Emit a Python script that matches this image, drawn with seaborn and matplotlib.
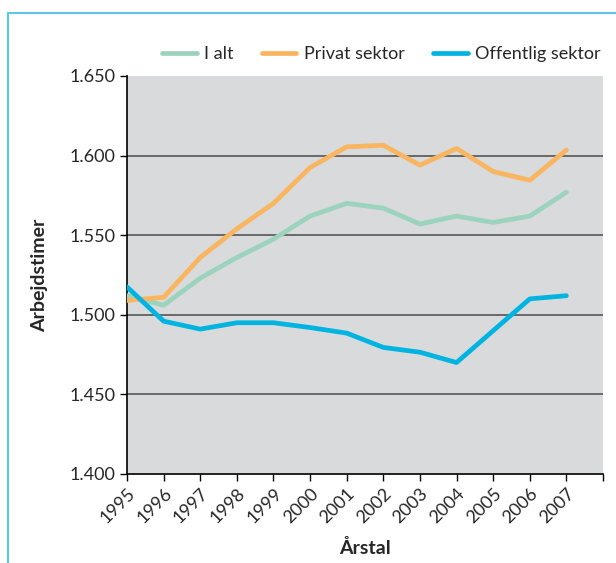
import pandas as pd
import matplotlib.pyplot as plt
import seaborn as sns
from matplotlib.patches import Rectangle

# data (hours per year)
years = list(range(1995, 2008))
i_alt = [1512, 1506, 1523, 1536, 1547.5, 1562, 1570, 1567, 1557, 1562, 1558, 1562, 1577]
privat = [1509, 1511, 1536, 1554, 1570, 1592.5, 1605.5, 1606.5, 1594, 1604.5, 1590, 1584.5, 1603.5]
offentlig = [1517.5, 1496, 1491, 1495, 1495, 1492, 1488.5, 1479.5, 1476.5, 1470, 1490, 1510, 1512]
series_names = ['I alt', 'Privat sektor', 'Offentlig sektor']
y_ticks = [1400, 1450, 1500, 1550, 1600, 1650]

df = pd.DataFrame({
    'Aar': years * 3,
    'Timer': i_alt + privat + offentlig,
    'Serie': [s for s in series_names for _ in years],
})

cores = {'I alt': '#9bd3bd', 'Privat sektor': '#f9b55f', 'Offentlig sektor': '#00b4e1'}

sns.set_style('white')
plt.rcParams['font.family'] = ['Lato', 'DejaVu Sans']

fig = plt.figure(figsize=(6.16, 5.63), dpi=100)
ax = fig.add_axes([127 / 616, 89 / 563, 476 / 616, 398 / 563])
ax.set_facecolor('#d9dadc')

sns.lineplot(data=df, x='Aar', y='Timer', hue='Serie', palette=cores,
             linewidth=3.4, ax=ax, zorder=3)

ax.set_xlim(1995, 2008)
ax.set_ylim(1400, 1650)
ax.set_yticks(y_ticks)
ax.set_yticklabels([f'{v / 1000:.3f}' for v in y_ticks], fontsize=13)
ax.set_xticks(list(range(1995, 2009)))
ax.set_xticklabels([str(y) for y in years] + [''], rotation=45, ha='right',
                   rotation_mode='anchor', fontsize=13)
ax.tick_params(axis='both', direction='out', length=5, width=1, color='black',
               bottom=True, left=True, pad=3)

for v in y_ticks[1:-1]:
    ax.axhline(v, color='#555555', lw=1.2, zorder=2)

for side in ['top', 'right']:
    ax.spines[side].set_visible(False)
for side in ['left', 'bottom']:
    ax.spines[side].set_color('black')
    ax.spines[side].set_linewidth(1.2)

ax.set_xlabel('Årstal', fontsize=14, fontweight='bold', labelpad=9)
ax.set_ylabel('Arbejdstimer', fontsize=14, fontweight='bold', labelpad=16)

ax.legend(title=None, ncol=3, frameon=False, loc='lower right',
          bbox_to_anchor=(0.995, 1.035), fontsize=13, handlelength=1.9,
          columnspacing=1.6, handletextpad=0.4, borderaxespad=0, borderpad=0)

fig.add_artist(Rectangle((8 / 616, -0.05), 1, (563 - 13) / 563 + 0.05,
                         transform=fig.transFigure, fill=False,
                         edgecolor='#5bc8e6', lw=1.5, clip_on=False))

fig.savefig('out.png', dpi=100)
